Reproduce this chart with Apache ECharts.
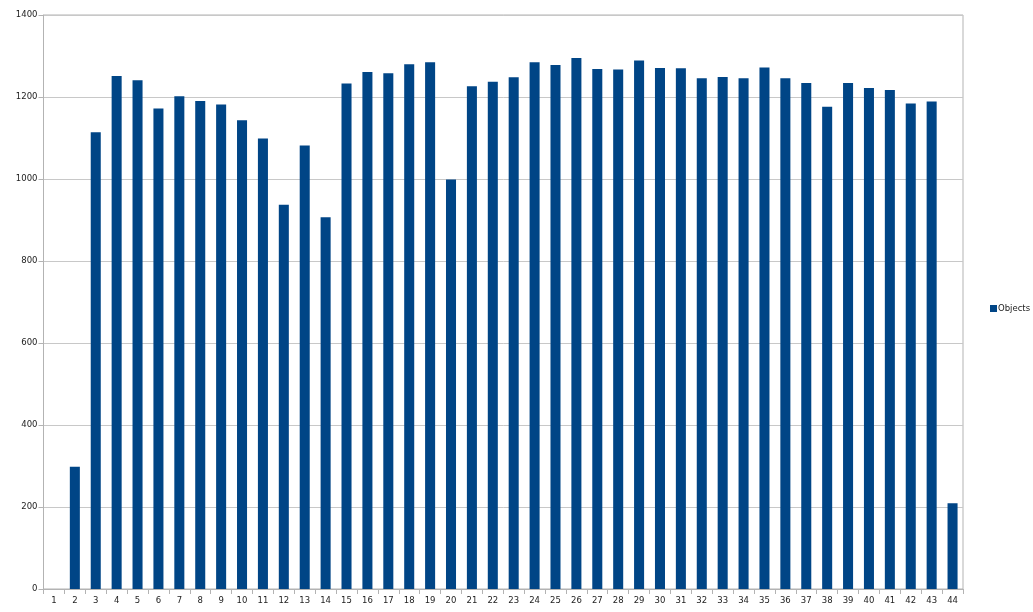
<!DOCTYPE html>
<html><head><meta charset="utf-8">
<script src="https://cdn.jsdelivr.net/npm/echarts@6/dist/echarts.min.js"></script>
<style>html,body{margin:0;padding:0;background:#fff}#c{width:1033px;height:612px}</style>
</head><body><div id="c"></div>
<script>
const categories = Array.from({length:44},(_, i)=>String(i+1));
const objects = [0,298,1114,1251,1241,1172,1202,1190,1182,1143,1099,937,1082,907,1233,1261,1258,1280,1285,999,1226,1237,1248,1285,1278,1295,1268,1267,1289,1271,1270,1246,1249,1246,1272,1246,1234,1176,1234,1222,1217,1184,1189,209];
const yTicks = [0,200,400,600,800,1000,1200,1400];
const chart = echarts.init(document.getElementById('c'));
chart.setOption({
  animation:false,
  textStyle:{fontFamily:'DejaVu Sans'},
  grid:{left:43.5,right:70,top:15,bottom:23,containLabel:false,show:true,borderColor:'#b3b3b3',borderWidth:1},
  legend:{orient:'vertical',left:985,top:299,itemWidth:7,itemHeight:7,itemGap:4,icon:'rect',
    textStyle:{fontSize:8.5,color:'#222',padding:[0,0,0,-4]},data:['Objects']},
  xAxis:{type:'category',data:categories,
    axisLine:{lineStyle:{color:'#b3b3b3',width:1}},
    axisTick:{show:true,length:5,lineStyle:{color:'#b3b3b3'}},
    axisLabel:{fontSize:8.5,color:'#222',margin:7}},
  yAxis:{type:'value',min:yTicks[0],max:yTicks[yTicks.length-1],interval:200,
    axisLine:{show:true,lineStyle:{color:'#b3b3b3'}},
    axisTick:{show:true,length:5,lineStyle:{color:'#b3b3b3'}},
    axisLabel:{fontSize:8.5,color:'#222',margin:6,formatter:v=>String(v)},
    splitLine:{lineStyle:{color:'#c8c8c8',width:1}}},
  series:[{name:'Objects',type:'bar',data:objects,barWidth:'48%',itemStyle:{color:'#004586'}}]
});
</script></body></html>
